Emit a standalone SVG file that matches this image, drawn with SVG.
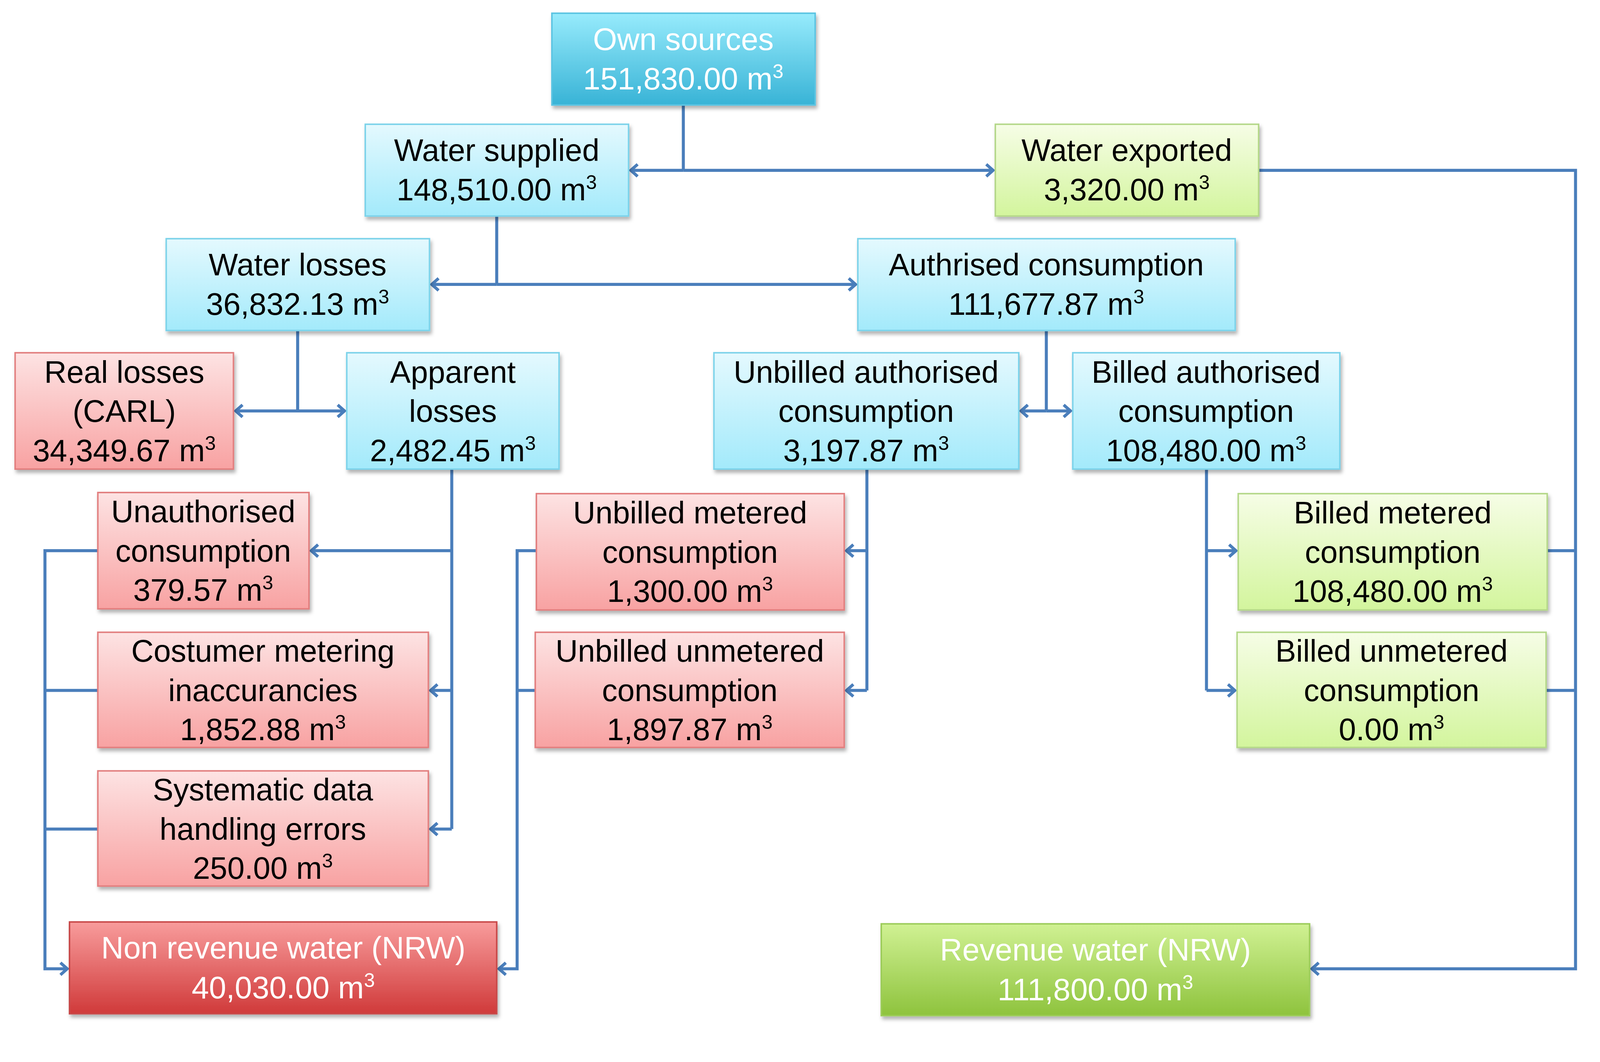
<svg xmlns="http://www.w3.org/2000/svg" width="4211" height="2719" viewBox="0 0 4211 2719">
<defs>
<linearGradient id="gc" x1="0" y1="0" x2="0" y2="1"><stop offset="0" stop-color="#e4f9fe"/><stop offset="1" stop-color="#a3eafb"/></linearGradient>
<linearGradient id="gr" x1="0" y1="0" x2="0" y2="1"><stop offset="0" stop-color="#fde3e3"/><stop offset="1" stop-color="#f8a2a2"/></linearGradient>
<linearGradient id="gg" x1="0" y1="0" x2="0" y2="1"><stop offset="0" stop-color="#f6fde6"/><stop offset="1" stop-color="#d3f59d"/></linearGradient>
<linearGradient id="gC" x1="0" y1="0" x2="0" y2="1"><stop offset="0" stop-color="#97ebfc"/><stop offset="1" stop-color="#38b3d6"/></linearGradient>
<linearGradient id="gR" x1="0" y1="0" x2="0" y2="1"><stop offset="0" stop-color="#f89c9c"/><stop offset="1" stop-color="#d03a3a"/></linearGradient>
<linearGradient id="gG" x1="0" y1="0" x2="0" y2="1"><stop offset="0" stop-color="#d0f193"/><stop offset="1" stop-color="#8ec33d"/></linearGradient>
<filter id="sh" x="-5%" y="-5%" width="115%" height="120%"><feDropShadow dx="4" dy="8" stdDeviation="5" flood-color="#000" flood-opacity="0.3"/></filter>
<marker id="ah" viewBox="-10 -10 40 40" refX="18" refY="10" markerWidth="40" markerHeight="40" markerUnits="userSpaceOnUse" orient="auto-start-reverse" overflow="visible"><path d="M0,-6 L18,10 L0,26" fill="none" stroke="#4a7ebb" stroke-width="8"/></marker>
</defs>
<style>
rect{stroke-width:4;filter:url(#sh)}
.c{fill:url(#gc);stroke:#7dd3ea}
.r{fill:url(#gr);stroke:#e27f7f}
.g{fill:url(#gg);stroke:#b5d88a}
.C{fill:url(#gC);stroke:#5cc4e2}
.R{fill:url(#gR);stroke:#c84848}
.G{fill:url(#gG);stroke:#9ccc5a}
text{font-family:"Liberation Sans",Arial,sans-serif;font-size:82px;text-anchor:middle;fill:#000}
.w{fill:#fff}
.s{font-size:52px}
#conn path{fill:none;stroke:#4a7ebb;stroke-width:8}
</style>
<g transform="scale(0.967)">
<g id="conn">
<path d="M1809,278 V451"/>
<path d="M1809,451 H1670" marker-end="url(#ah)"/>
<path d="M1809,451 H2629" marker-end="url(#ah)"/>
<path d="M1315,572 V753"/>
<path d="M1315,753 H1143" marker-end="url(#ah)"/>
<path d="M1315,753 H2265" marker-end="url(#ah)"/>
<path d="M788,875 V1088"/>
<path d="M788,1088 H624" marker-end="url(#ah)"/>
<path d="M788,1088 H912" marker-end="url(#ah)"/>
<path d="M2770,875 V1088"/>
<path d="M2770,1088 H2703" marker-end="url(#ah)"/>
<path d="M2770,1088 H2834" marker-end="url(#ah)"/>
<path d="M1196,1242 V2195"/>
<path d="M1196,1458 H824" marker-end="url(#ah)"/>
<path d="M1196,1828 H1140" marker-end="url(#ah)"/>
<path d="M1196,2195 H1140" marker-end="url(#ah)"/>
<path d="M2295,1242 V1828"/>
<path d="M2295,1458 H2241" marker-end="url(#ah)"/>
<path d="M2295,1828 H2241" marker-end="url(#ah)"/>
<path d="M3194,1242 V1828"/>
<path d="M3194,1458 H3272" marker-end="url(#ah)"/>
<path d="M3194,1828 H3269" marker-end="url(#ah)"/>
<path d="M259,1458 H119 V2565 H178" marker-end="url(#ah)"/>
<path d="M259,1828 H119"/>
<path d="M259,2195 H119"/>
<path d="M1420,1458 H1369 V2565 H1321" marker-end="url(#ah)"/>
<path d="M1417,1828 H1369"/>
<path d="M3332,451 H4171 V2565 H3473" marker-end="url(#ah)"/>
<path d="M4096,1458 H4171"/>
<path d="M4093,1828 H4171"/>
</g>
<g id="own"><rect class="C" x="1461" y="35" width="697" height="243"/><text class="w" x="1809" y="132">Own sources</text><text class="w" x="1809" y="237">151,830.00 m<tspan class="s" dy="-30">3</tspan></text></g>
<g id="supplied"><rect class="c" x="967" y="329" width="697" height="243"/><text x="1315" y="426">Water supplied</text><text x="1315" y="531">148,510.00 m<tspan class="s" dy="-30">3</tspan></text></g>
<g id="exported"><rect class="g" x="2635" y="329" width="697" height="243"/><text x="2983" y="426">Water exported</text><text x="2983" y="531">3,320.00 m<tspan class="s" dy="-30">3</tspan></text></g>
<g id="losses"><rect class="c" x="440" y="632" width="697" height="243"/><text x="788" y="729">Water losses</text><text x="788" y="834">36,832.13 m<tspan class="s" dy="-30">3</tspan></text></g>
<g id="authorised"><rect class="c" x="2271" y="632" width="999" height="243"/><text x="2770" y="729">Authrised consumption</text><text x="2770" y="834">111,677.87 m<tspan class="s" dy="-30">3</tspan></text></g>
<g id="real"><rect class="r" x="40" y="934" width="578" height="308"/><text x="329" y="1013">Real losses</text><text x="329" y="1117">(CARL)</text><text x="329" y="1221">34,349.67 m<tspan class="s" dy="-30">3</tspan></text></g>
<g id="apparent"><rect class="c" x="918" y="934" width="562" height="308"/><text x="1199" y="1013">Apparent</text><text x="1199" y="1117">losses</text><text x="1199" y="1221">2,482.45 m<tspan class="s" dy="-30">3</tspan></text></g>
<g id="unbilledauth"><rect class="c" x="1890" y="934" width="807" height="308"/><text x="2293" y="1013">Unbilled authorised</text><text x="2293" y="1117">consumption</text><text x="2293" y="1221">3,197.87 m<tspan class="s" dy="-30">3</tspan></text></g>
<g id="billedauth"><rect class="c" x="2840" y="934" width="707" height="308"/><text x="3193" y="1013">Billed authorised</text><text x="3193" y="1117">consumption</text><text x="3193" y="1221">108,480.00 m<tspan class="s" dy="-30">3</tspan></text></g>
<g id="unauth"><rect class="r" x="259" y="1304" width="559" height="308"/><text x="538" y="1383">Unauthorised</text><text x="538" y="1487">consumption</text><text x="538" y="1591">379.57 m<tspan class="s" dy="-30">3</tspan></text></g>
<g id="metering"><rect class="r" x="259" y="1674" width="875" height="305"/><text x="696" y="1752">Costumer metering</text><text x="696" y="1856">inaccurancies</text><text x="696" y="1960">1,852.88 m<tspan class="s" dy="-30">3</tspan></text></g>
<g id="systematic"><rect class="r" x="259" y="2041" width="875" height="305"/><text x="696" y="2119">Systematic data</text><text x="696" y="2223">handling errors</text><text x="696" y="2327">250.00 m<tspan class="s" dy="-30">3</tspan></text></g>
<g id="nrw"><rect class="R" x="184" y="2441" width="1131" height="243"/><text class="w" x="750" y="2538">Non revenue water (NRW)</text><text class="w" x="750" y="2643">40,030.00 m<tspan class="s" dy="-30">3</tspan></text></g>
<g id="unbilledmet"><rect class="r" x="1420" y="1307" width="815" height="308"/><text x="1827" y="1386">Unbilled metered</text><text x="1827" y="1490">consumption</text><text x="1827" y="1594">1,300.00 m<tspan class="s" dy="-30">3</tspan></text></g>
<g id="unbilledunmet"><rect class="r" x="1417" y="1674" width="818" height="305"/><text x="1826" y="1752">Unbilled unmetered</text><text x="1826" y="1856">consumption</text><text x="1826" y="1960">1,897.87 m<tspan class="s" dy="-30">3</tspan></text></g>
<g id="billedmet"><rect class="g" x="3278" y="1307" width="818" height="308"/><text x="3687" y="1386">Billed metered</text><text x="3687" y="1490">consumption</text><text x="3687" y="1594">108,480.00 m<tspan class="s" dy="-30">3</tspan></text></g>
<g id="billedunmet"><rect class="g" x="3275" y="1674" width="818" height="305"/><text x="3684" y="1752">Billed unmetered</text><text x="3684" y="1856">consumption</text><text x="3684" y="1960">0.00 m<tspan class="s" dy="-30">3</tspan></text></g>
<g id="revenue"><rect class="G" x="2333" y="2446" width="1134" height="243"/><text class="w" x="2900" y="2543">Revenue water (NRW)</text><text class="w" x="2900" y="2648">111,800.00 m<tspan class="s" dy="-30">3</tspan></text></g>
</g>
</svg>
